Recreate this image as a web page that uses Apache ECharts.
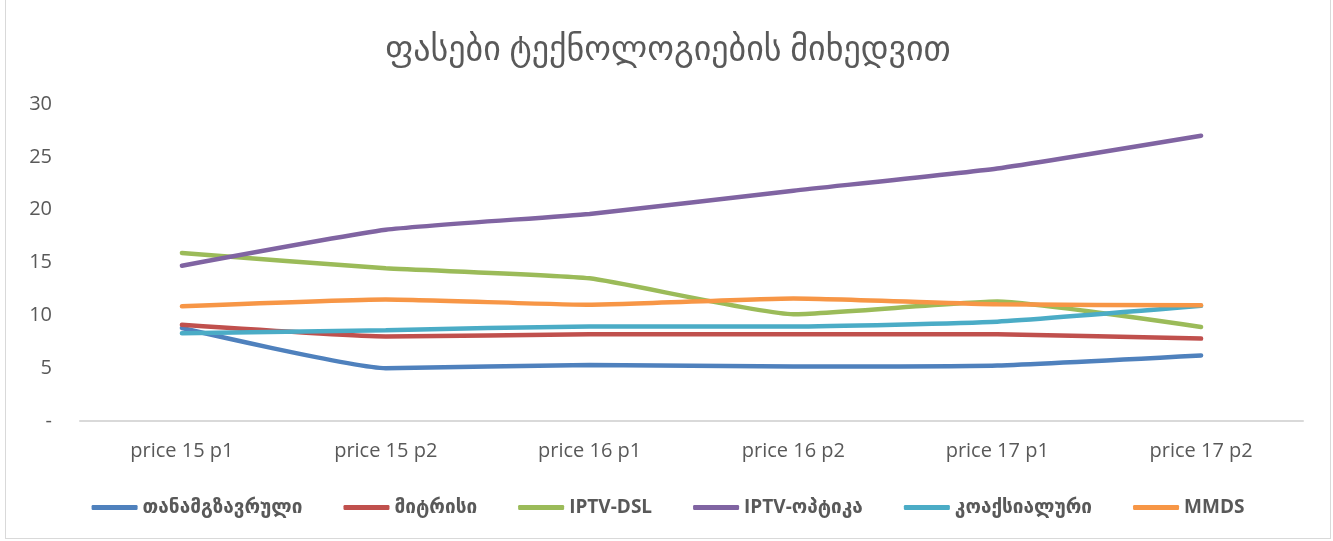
<!DOCTYPE html>
<html>
<head>
<meta charset="utf-8">
<script src="https://cdn.jsdelivr.net/npm/echarts@6/dist/echarts.min.js"></script>
<style>
  html, body { margin: 0; padding: 0; background: #fff; }
  #main { position: absolute; left: 5px; top: 0; width: 1326px; height: 539px; border: 1px solid #d9d9d9; border-top: none; box-sizing: border-box; }
</style>
</head>
<body>
<div id="main"></div>
<script>
var categories = ['price 15 p1', 'price 15 p2', 'price 16 p1', 'price 16 p2', 'price 17 p1', 'price 17 p2'];
var seriesNames = ['თანამგზავრული', 'მიტრისი', 'IPTV-DSL', 'IPTV-ოპტიკა', 'კოაქსიალური', 'MMDS'];
var satellite = [8.8, 5.0, 5.3, 5.15, 5.25, 6.2];
var mitrisi   = [9.1, 8.0, 8.2, 8.2, 8.2, 7.8];
var iptvDsl   = [15.9, 14.45, 13.5, 10.1, 11.3, 8.9];
var iptvOptic = [14.7, 18.1, 19.6, 21.8, 23.9, 27.0];
var coaxial   = [8.3, 8.6, 8.95, 8.95, 9.4, 10.9];
var mmds      = [10.85, 11.5, 11.0, 11.6, 11.05, 10.95];
var colors = ['#4f81bd', '#c0504d', '#9bbb59', '#8064a2', '#4bacc6', '#f79646'];

var font = '"Open Sans", "DejaVu Sans", sans-serif';
var myChart = echarts.init(document.getElementById('main'));

var allData = [satellite, mitrisi, iptvDsl, iptvOptic, coaxial, mmds];
var series = [];
for (var i = 0; i < allData.length; i++) {
    series.push({
        name: seriesNames[i],
        type: 'line',
        data: allData[i],
        smooth: 0.15,
        symbol: 'none',
        lineStyle: { width: 4.5, color: colors[i], cap: 'round' },
        itemStyle: { color: colors[i] }
    });
}

var option = {
    animation: false,
    title: {
        text: 'ფასები ტექნოლოგიების მიხედვით',
        left: 'center',
        top: 28,
        textStyle: { color: '#595959', fontSize: 34, fontWeight: 'normal', fontFamily: font }
    },
    legend: {
        data: seriesNames,
        bottom: 16,
        left: 'center',
        icon: 'roundRect',
        itemWidth: 46,
        itemHeight: 5,
        itemGap: 41,
        textStyle: { color: '#595959', fontSize: 19, fontWeight: 'bold', fontFamily: font }
    },
    grid: { left: 74, right: 27, top: 104, bottom: 117 },
    xAxis: {
        type: 'category',
        data: categories,
        axisLine: { lineStyle: { color: '#d9d9d9', width: 2 } },
        axisTick: { show: false },
        axisLabel: { color: '#595959', fontSize: 20, margin: 20, fontFamily: font }
    },
    yAxis: {
        type: 'value',
        min: 0,
        max: 30,
        interval: 5,
        splitLine: { show: false },
        axisLine: { show: false },
        axisTick: { show: false },
        axisLabel: {
            color: '#595959', fontSize: 20, margin: 28, fontFamily: font,
            formatter: function (v) { return v === 0 ? '-' : v; }
        }
    },
    series: series
};

myChart.setOption(option);
</script>
</body>
</html>
